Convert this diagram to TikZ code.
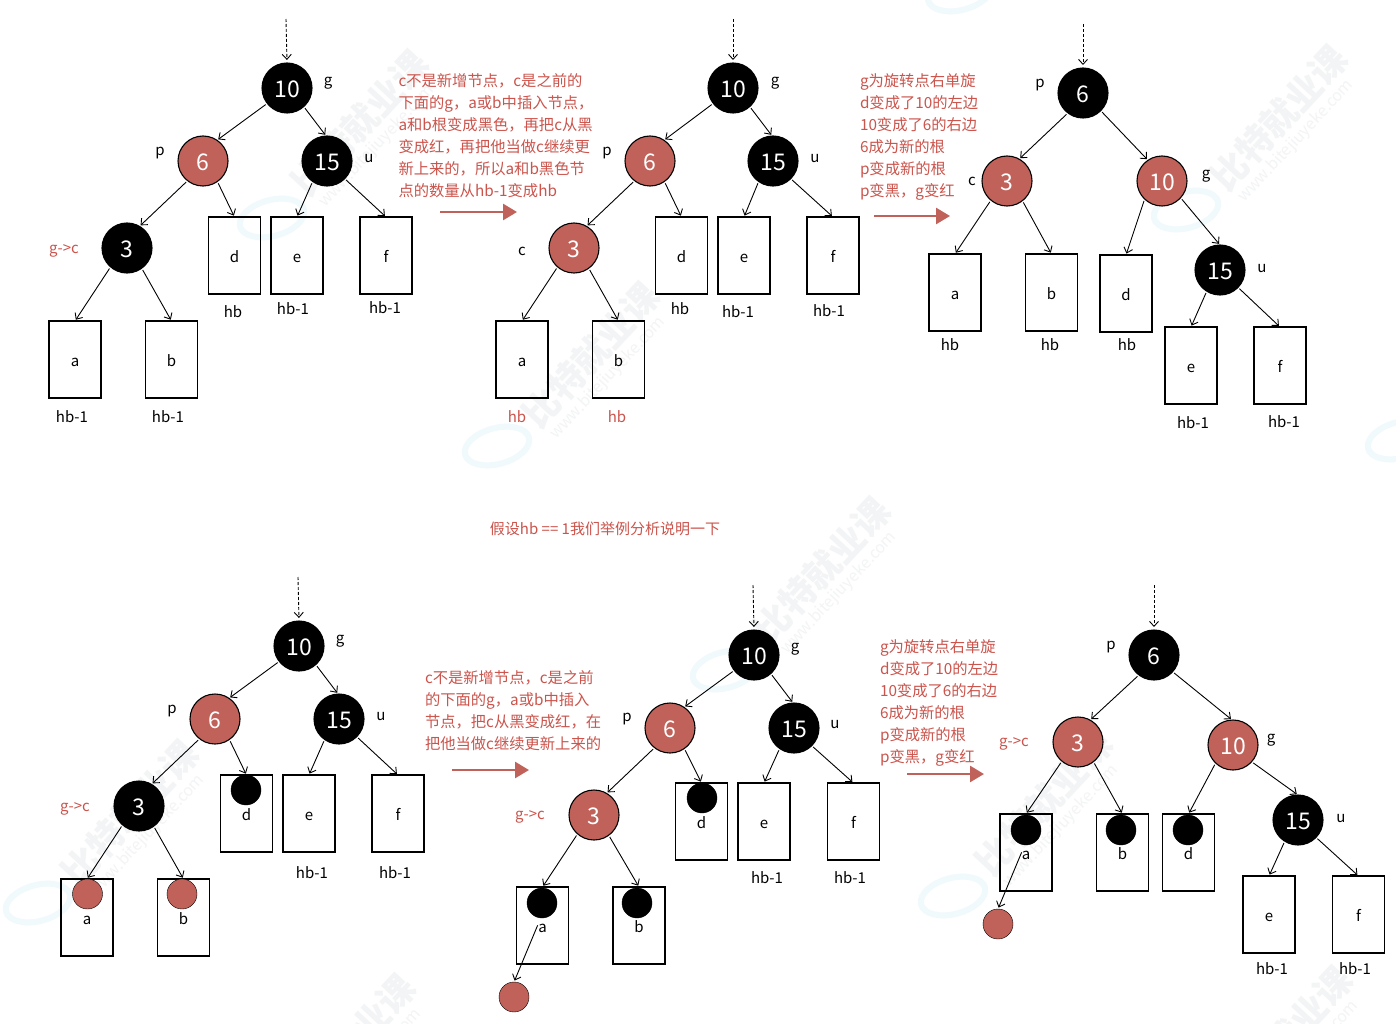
\documentclass[tikz,border=0pt]{standalone}
\usepackage{fontspec}
\usepackage{xcolor}
\setmainfont{Noto Sans CJK SC}
\usetikzlibrary{arrows.meta}
\definecolor{C1}{RGB}{192,98,90}
\definecolor{C2}{RGB}{203,84,76}
\definecolor{C3}{RGB}{243,244,245}
\definecolor{C4}{RGB}{240,249,252}
\tikzset{
    >={Straight Barb[length=5pt,width=9pt]},
    tree/.style={circle, draw=black, line width=1.1pt, minimum size=50pt, inner sep=0pt, outer sep=0pt,
                 text=white, text height=18.8pt, text depth=0pt, font=\fontsize{23}{23}\selectfont},
    blacktree/.style={tree, fill=black},
    redtree/.style={tree, fill=C1},
    leaf/.style={rectangle, draw=black, line width=1.15pt, minimum width=52pt, minimum height=77pt, inner sep=0pt,
                 outer sep=0pt, text height=13pt, text depth=0pt, font=\fontsize{15}{15}\selectfont},
    dotblack/.style={circle, fill=black, draw=black, minimum size=30pt, inner sep=0pt, outer sep=0pt},
    dotred/.style={dotblack, fill=C1},
    lbl/.style={inner sep=0pt, outer sep=0pt, yshift=-1pt, font=\fontsize{15}{15}\selectfont},
    redlbl/.style={lbl, text=C2},
    note/.style={redlbl, anchor=west, align=left, font=\fontsize{15.3}{22}\selectfont},
    edge/.style={->, line width=0.9pt, shorten <=2pt, shorten >=1.5pt},
    entry/.style={->, line width=0.9pt, densely dashed, shorten >=3pt},
    turn/.style={-{Triangle[length=14pt,width=16pt]}, draw=C1, line width=2.6pt},
    mark1/.style={text=C3, rotate=47, inner sep=0pt, font=\fontsize{36}{36}\selectfont\bfseries},
    mark2/.style={text=C3, rotate=47, inner sep=0pt, font=\fontsize{16}{16}\selectfont},
    ring/.style={draw=C4, line width=6pt},
}
\begin{document}
\begin{tikzpicture}[x=1pt, y=-1pt]
    \useasboundingbox (0, 0) rectangle (1396, 1024);
    \fill[white] (0, 0) rectangle (1396, 1024);

    \foreach[count=\i] \x/\y in {360/123, 591/355, 1279/118, 822/570, 130/813, 1044/803, 347/1047, 1284/1039}{
        \node[mark1] (brand\i) at (\x, \y) {比特就业课};
        \node[mark2] (site\i) at (\x + 17, \y + 23) {www.bitejiuyeke.com};
    }
    \foreach \x/\y in {272/218, 497/446, 1186/210, 725/670, 38/903, 953/896, 960/-8, 1400/440}{
        \draw[ring] (\x, \y) ellipse [x radius=33pt, y radius=18pt, rotate=15];
    }

    \foreach \name/\x/\y/\num in {g1/287/88/10, u1/327/161/15, c1/127/248/3,
                                  g2/733/88/10, u2/773/161/15,
                                  p3/1083/93/6, u3/1220/270/15,
                                  g4/299/646/10, u4/339/719/15, c4/139/806/3,
                                  g5/754/655/10, u5/794/728/15,
                                  p6/1154/655/6, u6/1298/820/15}{
        \node[blacktree] (\name) at (\x, \y) {\num};
    }
    \foreach \name/\x/\y/\num in {p1/203/161/6,
                                  p2/650/161/6, c2/574/248/3,
                                  c3/1007/181/3, g3/1162/181/10,
                                  p4/215/719/6,
                                  p5/670/728/6, c5/594/815/3,
                                  c6/1078/742/3, g6/1233/745/10}{
        \node[redtree] (\name) at (\x, \y) {\num};
    }

    \foreach \name/\x/\y/\txt in {a1/75/359.5/a, b1/171.5/359.5/b, d1/234.5/255.5/d, e1/297/255.5/e, f1/386/255.5/f,
                                  a2/522/359.5/a, b2/618.5/359.5/b, d2/681.5/255.5/d, e2/744/255.5/e, f2/833/255.5/f,
                                  a3/955/292.5/a, b3/1051.5/292.5/b, d3/1126/293.5/d, e3/1191/365.5/e, f3/1280/365.5/f,
                                  a4/87/917.5/a, b4/183.5/917.5/b, d4/246.5/813.5/d, e4/309/813.5/e, f4/398/813.5/f,
                                  a5/542.5/925.5/a, b5/639/925.5/b, d5/701.5/821.5/d, e5/764/821.5/e, f5/853.5/821.5/f,
                                  a6/1026/852.5/a, b6/1122.5/852.5/b, d6/1188.5/852.5/d, e6/1269/914.5/e, f6/1358.5/914.5/f}{
        \node[leaf] (\name) at (\x, \y) {\txt};
    }

    \foreach \i in {1,2,4,5}{
        \foreach \from/\s/\to/\t in {g/218/p/56, g/312/u/92, p/232/c/60, p/305/d/north,
                                     u/235/e/north, u/315/f/north, c/229/a/north, c/306/b/north}{
            \draw[edge] (\from\i.\s) -- (\to\i.\t);
        }
    }
    \foreach \i in {3,6}{
        \foreach \from/\s/\to/\t in {p/233/c/61, c/230/a/north, c/308/b/north, g/226/d/north,
                                     g/318/u/90, u/238/e/north, u/316/f/north}{
            \draw[edge] (\from\i.\s) -- (\to\i.\t);
        }
    }
    \draw[edge] (p3.315) -- (g3.124);
    \draw[edge] (p6.318) -- (g6.92);

    \foreach \i/\name/\x/\y in {1/g1/286/19, 2/g2/733/19, 3/p3/1083/24, 4/g4/298/577, 5/g5/753/585, 6/p6/1154/585}{
        \coordinate (in\i) at (\x, \y);
        \draw[entry] (in\i) -- (\name.north);
    }

    \foreach \name/\x/\y in {sd4/246/790, sa5/542/903, sb5/637/903, sd5/702/798,
                             sa6/1026/830, sb6/1121/830, sd6/1188/830}{
        \node[dotblack] (\name) at (\x, \y) {};
    }
    \foreach \name/\x/\y in {sa4/87.5/894, sb4/182/894, x5/514/997, x6/998/924}{
        \node[dotred] (\name) at (\x, \y) {};
    }
    \draw[edge, shorten <=8pt] (sa5.265) -- (x5.north);
    \draw[edge, shorten <=8pt] (sa6.265) -- (x6.north);

    \foreach \name/\x/\y/\txt in {lg1/328/82/g, lp1/160/152/p, lu1/369/158/u,
                                  lg2/775/82/g, lp2/607/152/p, lu2/815/158/u, lc2/522/250/c,
                                  lp3/1040/84/p, lc3/972/180/c, lg3/1206/175/g, lu3/1262/268/u,
                                  lg4/340/640/g, lp4/172/710/p, lu4/381/716/u,
                                  lg5/795/648/g, lp5/627/718/p, lu5/835/724/u,
                                  lp6/1111/646/p, lg6/1271/739/g, lu6/1341/818/u,
                                  h11/72/416/hb-1, h12/168/416/hb-1, h13/233/311/hb, h14/293/308/hb-1, h15/385/307/hb-1,
                                  h21/680/308/hb, h22/738/311/hb-1, h23/829/310/hb-1,
                                  h31/950/344/hb, h32/1050/344/hb, h33/1127/344/hb, h34/1193/422/hb-1, h35/1284/421/hb-1,
                                  h41/312/872/hb-1, h42/395/872/hb-1,
                                  h51/767/877/hb-1, h52/850/877/hb-1,
                                  h61/1272/968/hb-1, h62/1355/968/hb-1}{
        \node[lbl] (\name) at (\x, \y) {\txt};
    }
    \foreach \name/\x/\y/\txt in {r1/64/250/g->c, r2/517/416/hb, r3/617/416/hb,
                                  r4/75/808/g->c, r5/530/816/g->c, r6/1014/743/g->c}{
        \node[redlbl] (\name) at (\x, \y) {\txt};
    }

    \node[note] (note1) at (398.5, 135) {c不是新增节点，c是之前的\\下面的g，a或b中插入节点，\\a和b根变成黑色，再把c从黑\\变成红，再把他当做c继续更\\新上来的，所以a和b黑色节\\点的数量从hb-1变成hb};
    \node[note] (note2) at (860, 136) {g为旋转点右单旋\\d变成了10的左边\\10变成了6的右边\\6成为新的根\\p变成新的根\\p变黑，g变红};
    \node[note] (note3) at (425, 710) {c不是新增节点，c是之前\\的下面的g，a或b中插入\\节点，把c从黑变成红，在\\把他当做c继续更新上来的};
    \node[note] (note4) at (880, 702) {g为旋转点右单旋\\d变成了10的左边\\10变成了6的右边\\6成为新的根\\p变成新的根\\p变黑，g变红};
    \node[redlbl] (title) at (605, 528) {假设hb == 1我们举例分析说明一下};

    \foreach \i/\xa/\xb/\y in {1/440/517/212, 2/874/950/216, 3/452/529/770, 4/907/984/774}{
        \coordinate (from\i) at (\xa, \y);
        \coordinate (to\i) at (\xb, \y);
        \draw[turn] (from\i) -- (to\i);
    }
\end{tikzpicture}
\end{document}
